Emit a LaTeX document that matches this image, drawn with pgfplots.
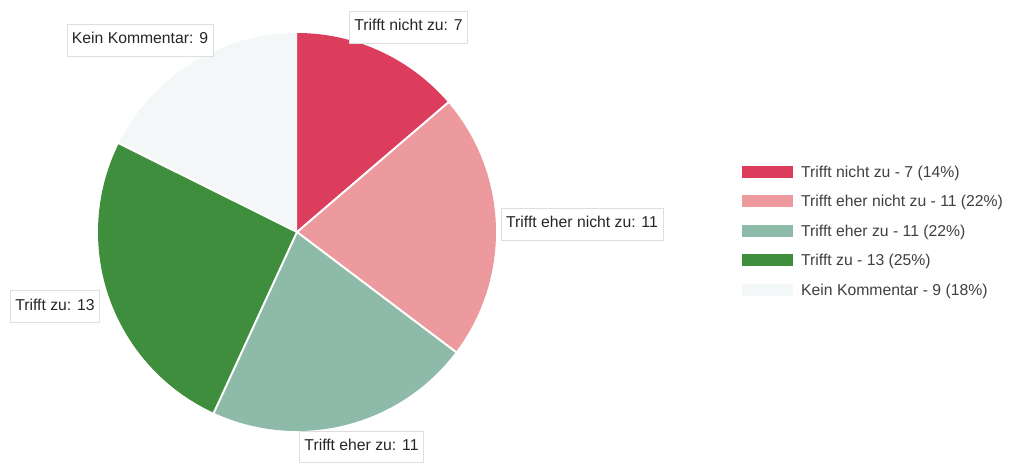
\documentclass[border=0pt]{standalone}
\usepackage{pgfplots}
\usepackage{pgfplotstable}
\pgfplotsset{compat=1.18}
\usepackage{fontspec}
\setmainfont{Liberation Sans}
\definecolor{c0}{HTML}{DC3D5C}
\definecolor{c1}{HTML}{EC9A9D}
\definecolor{c2}{HTML}{8EBBA9}
\definecolor{c3}{HTML}{3F8E3E}
\definecolor{c4}{HTML}{F4F7F8}
\pgfplotstableread{
idx value
0 7
1 11
2 11
3 13
4 9
}\piedata
\def\total{0}%
\foreach \i in {0,...,4}{%
  \pgfplotstablegetelem{\i}{value}\of\piedata
  \pgfmathsetmacro\tmp{\total+\pgfplotsretval}%
  \xdef\total{\tmp}%
}%
\def\cum{0}%
\foreach \i in {0,...,4}{%
  \pgfplotstablegetelem{\i}{value}\of\piedata
  \edef\v{\pgfplotsretval}%
  \pgfmathsetmacro\s{90-360*(\cum/\total)}%
  \pgfmathsetmacro\newcum{\cum+\v}%
  \pgfmathsetmacro\e{90-360*(\newcum/\total)}%
  \expandafter\xdef\csname sa\i\endcsname{\s}%
  \expandafter\xdef\csname ea\i\endcsname{\e}%
  \xdef\cum{\newcum}%
}%
\tikzset{
  lbl/.style={draw=black!13, fill=white, text=black!85,
    font=\fontsize{15.8}{18}\selectfont, inner xsep=5bp, inner ysep=8.5bp,
    text height=11.3bp, text depth=3.3bp},
  leg/.style={anchor=base west, text=black!75, inner sep=0pt,
    font=\fontsize{15.8}{18}\selectfont}
}
\begin{document}
\begin{tikzpicture}
\begin{axis}[
  width=1011bp, height=463bp, scale only axis,
  xmin=0, xmax=1011, ymin=0, ymax=463,
  hide axis, clip=false
]
\fill[white] (axis cs:0,0) rectangle (axis cs:1011,463);
\pgfplotsinvokeforeach{0,...,4}{
  \fill[c#1] (axis cs:297,231) -- ++(\csname sa#1\endcsname:199bp)
    arc[start angle=\csname sa#1\endcsname, end angle=\csname ea#1\endcsname, radius=199bp] -- cycle;
}
\pgfplotsinvokeforeach{1,...,4}{
  \draw[white, line width=2bp] (axis cs:297,231) -- ++(\csname sa#1\endcsname:199.5bp);
}
% slice labels
\node[lbl] at (axis cs:140,423) {Kein Kommentar: 9};
\node[lbl] at (axis cs:408.5,436) {Trifft nicht zu: 7};
\node[lbl] at (axis cs:582,239) {Trifft eher nicht zu: 11};
\node[lbl] at (axis cs:55,157) {Trifft zu: 13};
\node[lbl] at (axis cs:361.5,16.5) {Trifft eher zu: 11};
% legend
\fill[c0] (axis cs:742,285) rectangle (axis cs:793,297);
\fill[c1] (axis cs:742,255.5) rectangle (axis cs:793,267.5);
\fill[c2] (axis cs:742,226) rectangle (axis cs:793,238);
\fill[c3] (axis cs:742,196.5) rectangle (axis cs:793,208.5);
\fill[c4] (axis cs:742,167) rectangle (axis cs:793,179);
\node[leg] at (axis cs:801,285.5) {Trifft nicht zu - 7 (14\%)};
\node[leg] at (axis cs:801,256) {Trifft eher nicht zu - 11 (22\%)};
\node[leg] at (axis cs:801,226.5) {Trifft eher zu - 11 (22\%)};
\node[leg] at (axis cs:801,197) {Trifft zu - 13 (25\%)};
\node[leg] at (axis cs:801,167.5) {Kein Kommentar - 9 (18\%)};
\end{axis}
\end{tikzpicture}
\end{document}
